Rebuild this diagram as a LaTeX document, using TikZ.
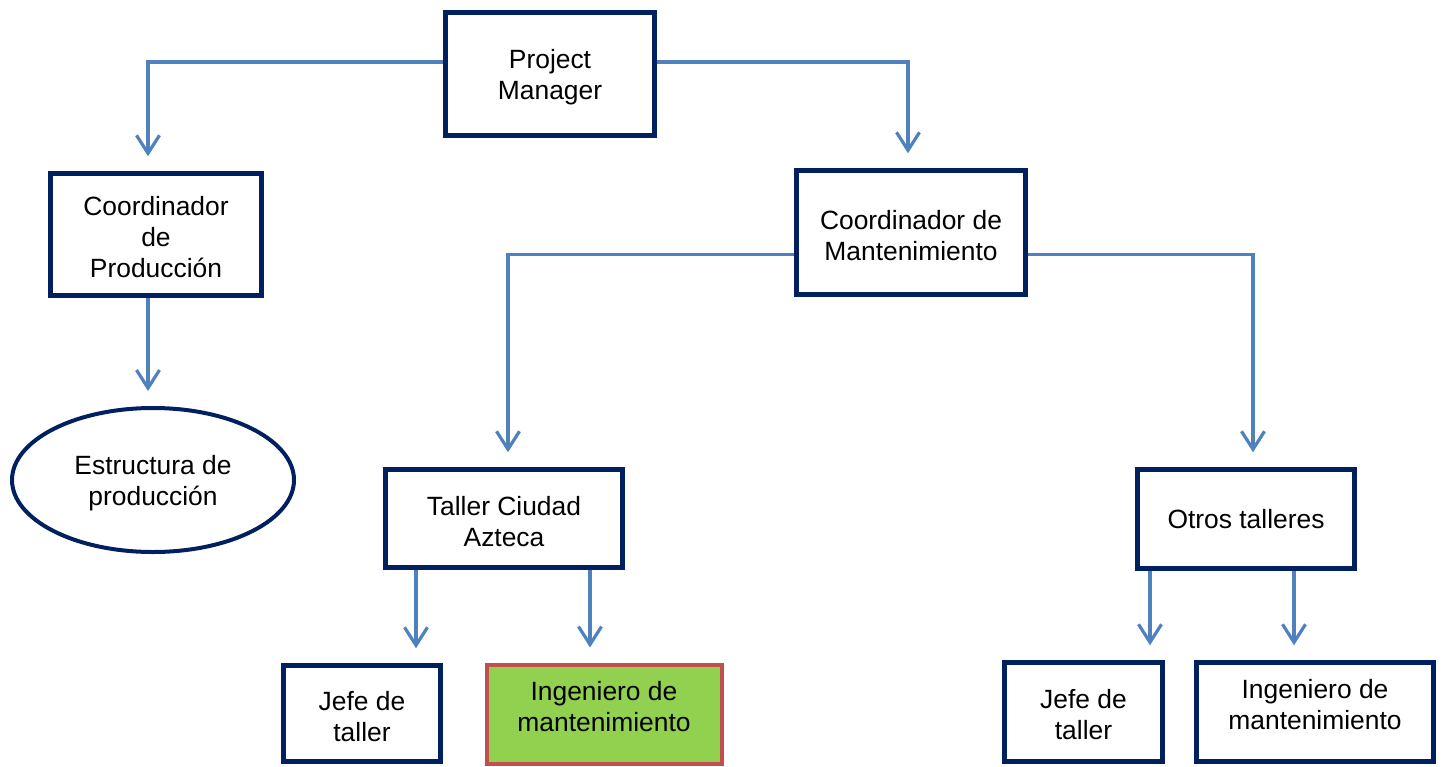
\documentclass[tikz,border=0pt]{standalone}
\usepackage{fontspec}
\setmainfont{Liberation Sans}
\usetikzlibrary{arrows.meta,shapes.geometric}
\definecolor{navy}{HTML}{002060}
\definecolor{link}{HTML}{4F81BD}
\definecolor{leaf}{HTML}{92D050}
\definecolor{edge}{HTML}{C0504D}
\begin{document}
\begin{tikzpicture}[x=1pt,y=-1pt,
  every node/.style={font=\fontsize{26.4}{31}\selectfont, align=center, inner sep=0pt},
  unit/.style={draw=navy, line width=4.5pt, rectangle, fill=white},
  hilite/.style={draw=edge, line width=4pt, rectangle, fill=leaf},
  oval/.style={draw=navy, line width=4pt, ellipse, fill=white},
  caption/.style={yshift=-3pt},
  link/.style={draw=link, line width=3.2pt,
    -{Straight Barb[length=18pt,width=23pt]}, shorten >=15pt}]
  \useasboundingbox (0,0) rectangle (1442,766);

  % boxes
  \node[unit, minimum width=209pt, minimum height=123pt] (pm) at (550,74) {};
  \node[caption] at (pm) {Project\\Manager};
  \node[unit, minimum width=211pt, minimum height=122pt] (cp) at (156,234.5) {};
  \node[caption] at (cp) {Coordinador\\de\\Producción};
  \node[unit, minimum width=229pt, minimum height=124pt] (cm) at (911,232.5) {};
  \node[caption] at (cm) {Coordinador de\\Mantenimiento};
  \node[oval, minimum width=282pt, minimum height=144pt] (ep) at (153,480) {};
  \node[caption] at (ep) {Estructura de\\producción};
  \node[unit, minimum width=237pt, minimum height=98pt] (tca) at (504,518.5) {};
  \node[caption] at (tca) {Taller Ciudad\\Azteca};
  \node[unit, minimum width=217pt, minimum height=99pt] (ot) at (1246,519) {Otros talleres};
  \node[unit, minimum width=157pt, minimum height=96pt] (ja) at (362,713.5) {};
  \node[caption] at (ja) {Jefe de\\taller};
  \node[hilite, minimum width=235pt, minimum height=99pt] (ia) at (604,714) {};
  \node at (604,707) {Ingeniero de\\mantenimiento};
  \node[unit, minimum width=158pt, minimum height=99pt] (jb) at (1083.5,712) {};
  \node[caption] at (jb) {Jefe de\\taller};
  \node[unit, minimum width=237pt, minimum height=99pt] (ib) at (1315,712) {};
  \node at (1315,705) {Ingeniero de\\mantenimiento};

  % connectors
  \draw[link] ([yshift=12pt]pm.west) -| ([xshift=-8pt]cp.north);
  \draw[link] ([yshift=12pt]pm.east) -| ([xshift=-3pt]cm.north);
  \draw[link] ([xshift=-8pt]cp.south) -- ([xshift=-8pt]cp.south |- ep.north);
  \draw[link] ([yshift=-22pt]cm.west) -| ([xshift=4pt]tca.north);
  \draw[link] ([yshift=-22pt]cm.east) -| ([xshift=7pt]ot.north);
  \draw[link] ([xshift=-88pt]tca.south) -- ([xshift=-88pt]tca.south |- ja.north);
  \draw[link] ([xshift=86pt]tca.south) -- ([xshift=86pt]tca.south |- ia.north);
  \draw[link] ([xshift=-96pt]ot.south) -- ([xshift=-96pt]ot.south |- jb.north);
  \draw[link] ([xshift=48pt]ot.south) -- ([xshift=48pt]ot.south |- ib.north);
\end{tikzpicture}
\end{document}
